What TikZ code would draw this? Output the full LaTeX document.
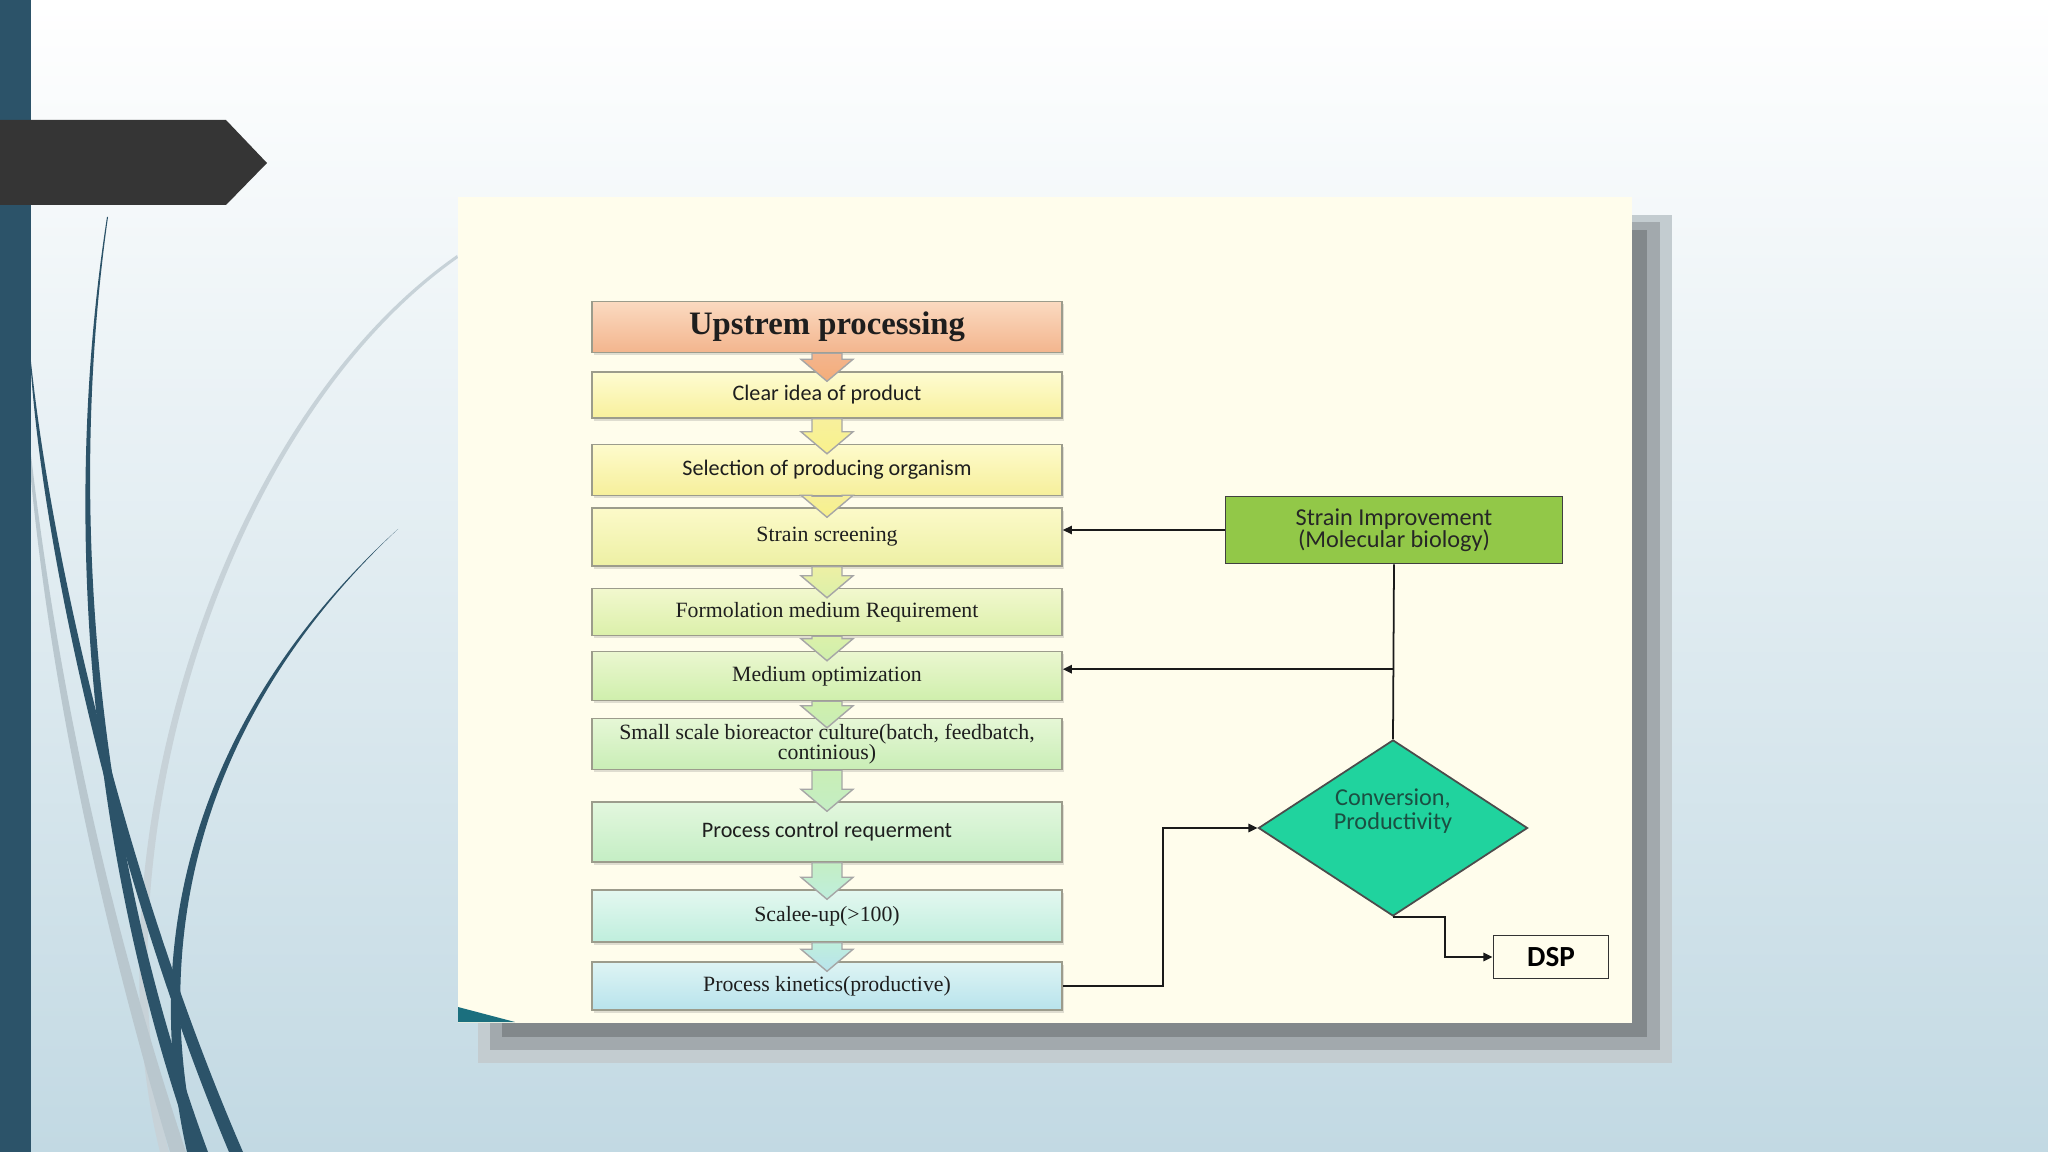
\documentclass[tikz,border=0pt]{standalone}
\usepackage{fontspec}
\setmainfont{Liberation Serif}
\newfontfamily\calibrifont{Carlito}
\usepackage{xcolor}
\usepackage{tikz}
\usetikzlibrary{arrows.meta, positioning, calc, shapes.geometric, shadows}

\definecolor{slidebar}{HTML}{2C5369}
\definecolor{slidemid}{HTML}{E4EEF2}
\definecolor{slidebot}{HTML}{C2D9E3}
\definecolor{bannergray}{HTML}{353535}
\definecolor{curvegray}{HTML}{B9C7CE}
\definecolor{panelcream}{HTML}{FFFDEC}
\definecolor{shadelight}{HTML}{C3CCD0}
\definecolor{shademid}{HTML}{A2A9AD}
\definecolor{shadedark}{HTML}{82888B}
\definecolor{boxline}{HTML}{9C9C8C}
\definecolor{boxtext}{HTML}{1E1E1E}
\definecolor{lineblack}{HTML}{1A1A1A}
\definecolor{strainfill}{HTML}{92C848}
\definecolor{convfill}{HTML}{20D39E}
\definecolor{convtext}{HTML}{1B4F42}
\definecolor{wedgeteal}{HTML}{1B6F7E}
% step colours, top / bottom
\definecolor{upA}{HTML}{FBDAC0}\definecolor{upB}{HTML}{F3B58E}
\definecolor{clearA}{HTML}{FEFCD2}\definecolor{clearB}{HTML}{F8F09C}
\definecolor{selA}{HTML}{FEFBCD}\definecolor{selB}{HTML}{F6EF9A}
\definecolor{scrA}{HTML}{FCFAC9}\definecolor{scrB}{HTML}{EDF0A4}
\definecolor{formA}{HTML}{F2F8CE}\definecolor{formB}{HTML}{DBF0AA}
\definecolor{medA}{HTML}{EBF7D0}\definecolor{medB}{HTML}{CFEFAC}
\definecolor{smallA}{HTML}{E6F7D6}\definecolor{smallB}{HTML}{C9EEB6}
\definecolor{ctrlA}{HTML}{E3F7DE}\definecolor{ctrlB}{HTML}{C4EEC4}
\definecolor{scaleA}{HTML}{E4F8F0}\definecolor{scaleB}{HTML}{BFEEDD}
\definecolor{kinA}{HTML}{DEF4F4}\definecolor{kinB}{HTML}{B8E3EC}

\newcommand{\serifsmall}{\fontsize{6.2}{5.8}\selectfont}
\newcommand{\sanssmall}{\calibrifont\fontsize{6.3}{6}\selectfont}

% wide block arrow from one box down into the next
\newcommand{\fatarrow}[4]{%
  \draw[fatarr, top color=#3, bottom color=#4]
    ($(#1.south)+(-15,0)$) -- ($(#2.north)+(-15,-12)$) -- ++(-11,0)
    -- ($(#2.north)+(0,10)$) -- ($(#2.north)+(26,-12)$) -- ++(-11,0)
    -- ($(#1.south)+(15,0)$) -- cycle;}

\begin{document}
\begin{tikzpicture}[
    x=0.01cm, y=-0.01cm,
    block/.style={draw=boxline, line width=0.4pt, minimum width=4.7cm, inner sep=0pt,
        align=center, text=boxtext, font=\serifsmall,
        drop shadow={shadow xshift=0.6pt, shadow yshift=-0.8pt, opacity=0.25}},
    fatarr/.style={draw=gray!70, line width=0.4pt},
    arr/.style={-{Triangle[length=2.6pt, width=2.4pt]}, draw=lineblack, line width=0.5pt},
    plain/.style={draw=lineblack, line width=0.5pt},
]
\useasboundingbox (0,0) rectangle (2048,1152);

% slide background
\shade[top color=white, middle color=slidemid, bottom color=slidebot] (0,0) rectangle (2048,1152);

% sweeping lines
\fill[curvegray!80] (457,255) .. controls (220,420) and (85,850) .. (160,1152)
    -- (169,1152) .. controls (93,850) and (224,423) .. (458,258) -- cycle;
\fill[curvegray] (31,480) .. controls (55,720) and (110,950) .. (170,1152)
    -- (186,1152) .. controls (119,950) and (62,720) .. (31,455) -- cycle;
\fill[slidebar] (107,217) .. controls (60,520) and (90,860) .. (194,1152)
    -- (208,1152) .. controls (100,860) and (65,520) .. (108,217) -- cycle;
\fill[slidebar] (31,372) .. controls (45,560) and (115,880) .. (229,1152)
    -- (243,1152) .. controls (125,880) and (52,560) .. (31,362) -- cycle;
\fill[slidebar] (398,529) .. controls (210,700) and (135,920) .. (187,1152)
    -- (198,1152) .. controls (144,920) and (214,702) .. (398,529) -- cycle;

\fill[slidebar] (0,0) rectangle (31,1152);
\fill[bannergray] (0,120) -- (226,120) -- (267,163) -- (226,205) -- (0,205) -- cycle;

% panel with stepped shadow
\fill[shadelight] (478,215) rectangle (1672,1063);
\fill[shademid] (490,222) rectangle (1660,1050);
\fill[shadedark] (502,230) rectangle (1647,1037);
\fill[panelcream] (458,197) rectangle (1632,1023);
\fill[wedgeteal] (458,1007) -- (515,1022) -- (458,1022) -- cycle;

% flow of steps
\node[block, top color=upA, bottom color=upB, minimum height=0.51cm,
    font=\bfseries\fontsize{9.3}{10}\selectfont] (up) at (827,327) {Upstrem processing};
\node[block, top color=clearA, bottom color=clearB, minimum height=0.46cm, font=\sanssmall] (clear) at (827,395) {Clear idea of product};
\node[block, top color=selA, bottom color=selB, minimum height=0.51cm, font=\sanssmall] (select) at (827,470) {Selection of producing organism};
\node[block, top color=scrA, bottom color=scrB, minimum height=0.58cm] (screen) at (827,537) {Strain screening};
\node[block, top color=formA, bottom color=formB, minimum height=0.47cm] (form) at (827,612) {Formolation medium Requirement};
\node[block, top color=medA, bottom color=medB, minimum height=0.49cm] (medium) at (827,676) {Medium optimization};
\node[block, top color=smallA, bottom color=smallB, minimum height=0.51cm] (small) at (827,744) {Small scale bioreactor culture(batch, feedbatch,\\continious)};
\node[block, top color=ctrlA, bottom color=ctrlB, minimum height=0.60cm, font=\sanssmall] (control) at (827,832) {Process control requerment};
\node[block, top color=scaleA, bottom color=scaleB, minimum height=0.52cm] (scale) at (827,916) {Scalee-up(>100)};
\node[block, top color=kinA, bottom color=kinB, minimum height=0.48cm] (kin) at (827,986) {Process kinetics(productive)};

\fatarrow{up}{clear}{upB}{upB!85!orange}
\fatarrow{clear}{select}{clearB}{clearB!90!yellow}
\fatarrow{select}{screen}{selB}{selB!90!yellow}
\fatarrow{screen}{form}{scrB}{formB}
\fatarrow{form}{medium}{formB}{medB}
\fatarrow{medium}{small}{medB}{smallB}
\fatarrow{small}{control}{smallB}{ctrlB}
\fatarrow{control}{scale}{ctrlB}{scaleB}
\fatarrow{scale}{kin}{scaleB}{kinB}

% feedback side
\node[draw=black!75, fill=strainfill, line width=0.5pt, minimum width=3.37cm, minimum height=0.66cm,
    align=center, text=black!85, font=\calibrifont\fontsize{6.9}{6.4}\selectfont] (strain) at (1394,530)
    {Strain Improvement\\(Molecular biology)};
\node[diamond, draw=black!70, fill=convfill, line width=0.5pt, minimum width=2.69cm, minimum height=1.76cm, inner sep=0pt,
    label={[yshift=4.8pt, align=center, text=convtext, font=\calibrifont\fontsize{6.9}{6.8}\selectfont]center:Conversion,\\Productivity}]
    (conv) at (1393,828) {};
\node[draw=black!80, fill=panelcream, line width=0.5pt, minimum width=1.15cm, minimum height=0.39cm,
    font=\calibrifont\bfseries\fontsize{8.3}{9}\selectfont] (dsp) at (1551,957) {DSP};

\coordinate (branch) at ($(strain.south)!0.6!(conv.north)$);
\draw[arr] (strain.west) -- (strain.west -| screen.east);
\draw[plain] (strain.south) -- (conv.north);
\draw[arr] (branch) -- (branch -| medium.east);
\draw[arr] (kin.east) -- ++(100,0) |- (conv.west);
\draw[arr] (conv.south) -- ++(52,0) |- (dsp.west);

\end{tikzpicture}
\end{document}
